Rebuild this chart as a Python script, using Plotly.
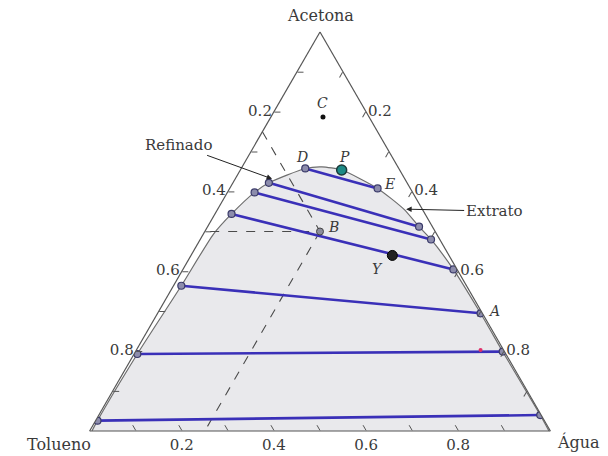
import math
import plotly.graph_objects as go

# Binodal curve of the acetone / toluene / water system (a = acetone, b = toluene, c = water)
binodal_a = [0.000, 0.026, 0.193, 0.364, 0.493, 0.544, 0.598, 0.622, 0.658, 0.662,
             0.654, 0.608, 0.556, 0.512, 0.480, 0.405, 0.295, 0.199, 0.040, 0.000]
binodal_b = [0.995, 0.970, 0.800, 0.619, 0.485, 0.420, 0.343, 0.300, 0.203, 0.165,
             0.126, 0.071, 0.040, 0.029, 0.019, 0.008, 0.004, 0.004, 0.002, 0.003]
binodal_c = [round(1 - a - b, 3) for a, b in zip(binodal_a, binodal_b)]

# Tie lines: raffinate (toluene-rich) end -> extract (water-rich) end
tie_left_a = [0.658, 0.622, 0.598, 0.544, 0.364, 0.193, 0.026]
tie_left_b = [0.203, 0.300, 0.343, 0.420, 0.619, 0.800, 0.970]
tie_right_a = [0.608, 0.512, 0.480, 0.405, 0.295, 0.199, 0.040]
tie_right_b = [0.071, 0.029, 0.019, 0.008, 0.004, 0.004, 0.002]

# Labelled compositions
point_names = ["C", "P", "B", "Y"]
point_a = [0.787, 0.654, 0.500, 0.440]
point_b = [0.100, 0.126, 0.250, 0.123]
red_a, red_b = [0.203], [0.050]

# Edge tick labels
tick_vals = [0.1, 0.2, 0.3, 0.4, 0.5, 0.6, 0.7, 0.8, 0.9]
major_labels = {0.2: "0.2", 0.4: "0.4", 0.6: "0.6", 0.8: "0.8"}


def comp_c(a_list, b_list):
    return [round(1 - a - b, 3) for a, b in zip(a_list, b_list)]


SERIF = "DejaVu Serif, Liberation Serif, serif"
TXT = "#3a3a3a"
BLUE = "#3a30b8"
END_FILL = "#8c8cac"
END_LINE = "#3b3b6a"

fig = go.Figure()

# two-phase region
fig.add_trace(go.Scatterternary(
    a=binodal_a, b=binodal_b, c=binodal_c, mode="lines",
    line=dict(color="#6e6e6e", width=1.2, shape="spline", smoothing=0.6),
    fill="toself", fillcolor="#e9e9ec", hoverinfo="skip", showlegend=False))

# dashed construction lines through B
bA, bB = point_a[2], point_b[2]
bC = 1 - bA - bB
fig.add_trace(go.Scatterternary(
    a=[1 - bB, bA, bA], b=[bB, bB, 1 - bA], c=[0, bC, 0], mode="lines",
    line=dict(color="#4a4a4a", width=1.1, dash="dash"),
    hoverinfo="skip", showlegend=False))
fig.add_trace(go.Scatterternary(
    a=[bA, 0], b=[bB, 1 - bC], c=[bC, bC], mode="lines",
    line=dict(color="#4a4a4a", width=1.1, dash="dash"),
    hoverinfo="skip", showlegend=False))

# tie lines
left_c = comp_c(tie_left_a, tie_left_b)
right_c = comp_c(tie_right_a, tie_right_b)
for la, lb, lc, ra, rb, rc in zip(tie_left_a, tie_left_b, left_c,
                                  tie_right_a, tie_right_b, right_c):
    fig.add_trace(go.Scatterternary(
        a=[la, ra], b=[lb, rb], c=[lc, rc], mode="lines+markers",
        line=dict(color=BLUE, width=2.6),
        marker=dict(size=7, color=END_FILL, line=dict(color=END_LINE, width=1.2)),
        hoverinfo="skip", showlegend=False))

# special points
pc = comp_c(point_a, point_b)
styles = {
    "C": dict(size=5, color="#111111", line=dict(width=0)),
    "P": dict(size=10, color="#1d8a86", line=dict(color="#1a3a3a", width=1.5)),
    "B": dict(size=7, color="#8c8c9c", line=dict(color="#444", width=1)),
    "Y": dict(size=10, color="#222222", line=dict(color="#000", width=1)),
}
for name, a, b, c in zip(point_names, point_a, point_b, pc):
    fig.add_trace(go.Scatterternary(
        a=[a], b=[b], c=[c], mode="markers", marker=styles[name],
        hoverinfo="skip", showlegend=False))

fig.add_trace(go.Scatterternary(
    a=red_a, b=red_b, c=comp_c(red_a, red_b), mode="markers",
    marker=dict(size=4, color="#e0306a"), hoverinfo="skip", showlegend=False))

# layout geometry
ML, MR, MT, MB = 70, 38, 32, 25
W, H = 608, 456
PW, PH = W - ML - MR, H - MT - MB
SIDE = PH * 2 / math.sqrt(3)


def to_paper(a, b):
    c = 1 - a - b
    return 0.5 + (c - b) / 2 * SIDE / PW, a


def axis(vals, reverse):
    text = []
    for v in vals:
        key = round(1 - v, 1) if reverse else round(v, 1)
        text.append(major_labels.get(key, ""))
    return dict(
        title=dict(text=""),
        tickmode="array", tickvals=vals, ticktext=text,
        ticks="inside", ticklen=6, tickwidth=1, tickcolor="#555",
        tickfont=dict(family=SERIF, size=15, color=TXT),
        showgrid=False, showline=True, linecolor="#555", linewidth=1.2,
    )


fig.update_layout(
    width=W, height=H,
    margin=dict(l=ML, r=MR, t=MT, b=MB),
    paper_bgcolor="white",
    ternary=dict(
        sum=1, bgcolor="white",
        aaxis=axis(tick_vals, True),
        baxis=axis(tick_vals, True),
        caxis=axis(tick_vals, False),
    ),
)


def note(a, b, text, dx, dy, font):
    x, y = to_paper(a, b)
    fig.add_annotation(x=x, y=y, xref="paper", yref="paper", text=text,
                       showarrow=False, xshift=dx, yshift=dy,
                       xanchor="center", yanchor="middle", font=font)


# component names at the vertices
title_font = dict(family=SERIF, size=16, color=TXT)
note(1, 0, "Acetona", 0, 17, title_font)
note(0, 1, "Tolueno", -31, -13, title_font)
note(0, 0, "Água", 28, -11, title_font)

# italic point labels
lab_font = dict(family=SERIF, size=14, color=TXT)
labels = [
    ("C", point_a[0], point_b[0], 0, 14),
    ("D", tie_left_a[0], tie_left_b[0], -3, 11),
    ("P", point_a[1], point_b[1], 3, 13),
    ("E", tie_right_a[0], tie_right_b[0], 12, 4),
    ("B", point_a[2], point_b[2], 13, 5),
    ("Y", point_a[3], point_b[3], -15, -14),
    ("A", tie_right_a[4], tie_right_b[4], 13, 2),
]
for txt, a, b, dx, dy in labels:
    note(a, b, "<i>" + txt + "</i>", dx, dy, lab_font)

# phase labels with arrows
rx, ry = to_paper(0.632, 0.288)
ex, ey = to_paper(0.556, 0.035)
fig.add_annotation(x=rx, y=ry, xref="paper", yref="paper", text="Refinado",
                   ax=-94, ay=-34, showarrow=True, arrowhead=2, arrowsize=1.1,
                   arrowwidth=1, arrowcolor="#222",
                   font=dict(family=SERIF, size=15, color=TXT))
fig.add_annotation(x=ex, y=ey, xref="paper", yref="paper", text="Extrato",
                   ax=88, ay=2, showarrow=True, arrowhead=2, arrowsize=1.1,
                   arrowwidth=1, arrowcolor="#222",
                   font=dict(family=SERIF, size=15, color=TXT))

fig.write_html("out.html")
